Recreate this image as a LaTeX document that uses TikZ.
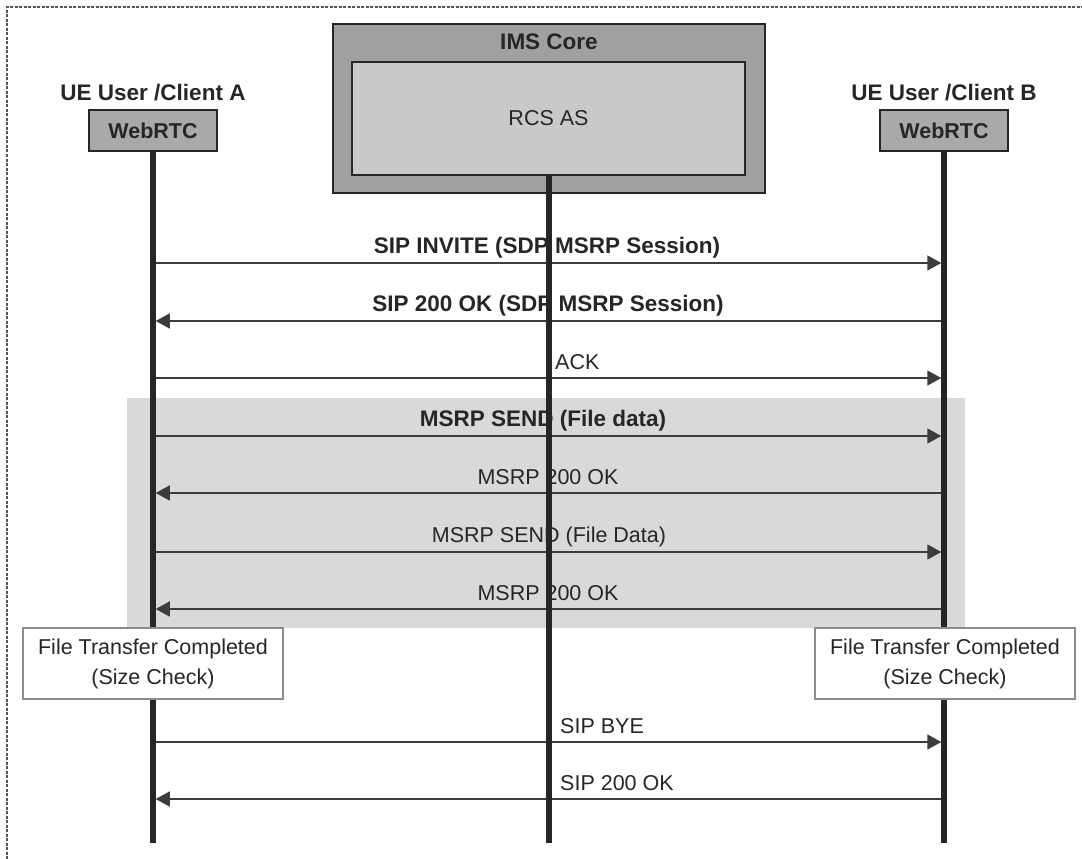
\documentclass[tikz,border=0pt]{standalone}
\usepackage{fontspec}
\setmainfont{Liberation Sans}
\usetikzlibrary{arrows.meta}
\definecolor{ink}{HTML}{262626}
\definecolor{msgc}{HTML}{3C3C3C}
\definecolor{boxgray}{HTML}{A9A9A9}
\definecolor{imsgray}{HTML}{A0A0A0}
\definecolor{rcsgray}{HTML}{C9C9C9}
\definecolor{regiongray}{HTML}{D9D9D9}
\definecolor{framec}{HTML}{555555}
\definecolor{notec}{HTML}{8C8C8C}
\begin{document}
\begin{tikzpicture}[x=1pt,y=-1pt,
  lifeline/.style={line width=5.5pt, draw=ink},
  msg/.style={line width=1.6pt, draw=msgc, -{Triangle[length=14pt,width=15pt]}, shorten >=2.75pt, shorten <=2.75pt},
  lbl/.style={font=\fontsize{21.5}{26}\selectfont, text=ink, anchor=base, inner sep=0pt},
  blbl/.style={font=\fontsize{22.5}{26}\selectfont\bfseries, text=ink, anchor=base, inner sep=0pt},
  llbl/.style={lbl, anchor=base west},
  clientlbl/.style={font=\fontsize{22.5}{26}\selectfont\bfseries, text=ink, anchor=base, inner sep=0pt},
  webrtc/.style={draw=ink, line width=1.5pt, fill=boxgray, minimum width=128pt, minimum height=41pt, inner sep=0pt, font=\fontsize{21.5}{26}\selectfont\bfseries, text=ink},
  notebox/.style={draw=notec, line width=1.5pt, fill=white, minimum width=260pt, minimum height=71pt, inner sep=0pt, align=center, font=\fontsize{21.5}{30}\selectfont, text=ink},
  framedash/.style={draw=framec, line width=1.2pt, dash pattern=on 3pt off 1.5pt}
]
\useasboundingbox (0,0) rectangle (1082,859);
% frame
\draw[framedash] (7,859) -- (7,7) -- (1082,7);

% shaded MSRP region
\fill[fill=regiongray] (127,398) rectangle (965,628);

% participants
\node[clientlbl] (ua) at (153,100) {UE User /Client A};
\node[webrtc] (wa) at (153,130.5) {WebRTC};
\node[clientlbl] (ub) at (944,100) {UE User /Client B};
\node[webrtc] (wb) at (944,130.5) {WebRTC};

\node[draw=ink, line width=2pt, fill=imsgray, minimum width=432pt, minimum height=169pt, inner sep=0pt] (ims) at (549,108.5) {};
\node[blbl, anchor=base] (imst) at (549,50) {IMS Core};
\node[draw=ink, line width=2pt, fill=rcsgray, minimum width=393pt, minimum height=113pt, inner sep=0pt, font=\fontsize{21.5}{26}\selectfont, text=ink] (rcs) at (548.5,118.5) {RCS AS};

% lifeline ends
\coordinate (aend) at (153,843);
\coordinate (cend) at (549,843);
\coordinate (bend) at (944,843);
\coordinate (ctop) at (549,175);

% message end points
\foreach \i/\y in {1/263,2/321,3/378,4/436,5/493,6/552,7/609,8/742,9/799}{
  \coordinate (A\i) at (153,\y);
  \coordinate (B\i) at (944,\y);
}

% messages
\draw[msg] (A1) -- (B1);
\draw[msg] (B2) -- (A2);
\draw[msg] (A3) -- (B3);
\draw[msg] (A4) -- (B4);
\draw[msg] (B5) -- (A5);
\draw[msg] (A6) -- (B6);
\draw[msg] (B7) -- (A7);
\draw[msg] (A8) -- (B8);
\draw[msg] (B9) -- (A9);

% labels
\node[blbl] (l1) at (547,253) {SIP INVITE (SDP MSRP Session)};
\node[blbl] (l2) at (548,311) {SIP 200 OK (SDP MSRP Session)};
\node[llbl] (l3) at (555,369) {ACK};
\node[blbl] (l4) at (543,426) {MSRP SEND (File data)};
\node[lbl] (l5) at (548,484) {MSRP 200 OK};
\node[lbl] (l6) at (549,542) {MSRP SEND (File Data)};
\node[lbl] (l7) at (548,600) {MSRP 200 OK};
\node[llbl] (l8) at (560,733) {SIP BYE};
\node[llbl] (l9) at (560,790) {SIP 200 OK};

% lifelines
\draw[lifeline] (wa.south) -- (aend);
\draw[lifeline] (wb.south) -- (bend);
\draw[lifeline] (ctop) -- (cend);

% completion notes
\node[notebox] (na) at (153,663.5) {File Transfer Completed\\(Size Check)};
\node[notebox] (nb) at (945,663.5) {File Transfer Completed\\(Size Check)};
\end{tikzpicture}
\end{document}
